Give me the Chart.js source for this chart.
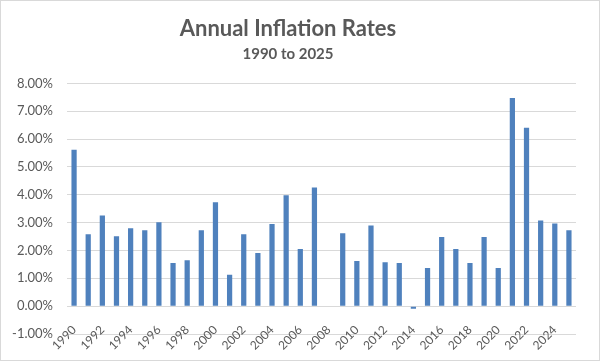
<!DOCTYPE html>
<html>
<head>
<meta charset="utf-8">
<script src="https://cdn.jsdelivr.net/npm/chart.js@4/dist/chart.umd.min.js"></script>
<style>
  html, body { margin: 0; padding: 0; background: #fff; }
  #wrap { width: 600px; height: 361px; }
</style>
</head>
<body>
<div id="wrap"><canvas id="chart" width="600" height="361"></canvas></div>
<script>
  // Dados
  const years = [
    '1990', '1991', '1992', '1993', '1994', '1995', '1996', '1997', '1998', '1999',
    '2000', '2001', '2002', '2003', '2004', '2005', '2006', '2007', '2008', '2009',
    '2010', '2011', '2012', '2013', '2014', '2015', '2016', '2017', '2018', '2019',
    '2020', '2021', '2022', '2023', '2024', '2025'
  ];
  const inflationRates = [
    5.62, 2.58, 3.26, 2.51, 2.80, 2.73, 3.01, 1.55, 1.65, 2.73,
    3.73, 1.13, 2.58, 1.91, 2.95, 3.98, 2.05, 4.26, 0, 2.62,
    1.62, 2.90, 1.58, 1.55, -0.09, 1.37, 2.48, 2.05, 1.55, 2.48,
    1.37, 7.48, 6.41, 3.08, 2.97, 2.73
  ];
  const yTicks = [-1, 0, 1, 2, 3, 4, 5, 6, 7, 8];

  const textColor = '#595959';
  const gridColor = '#d9d9d9';
  const fontFamily = 'Lato, "Open Sans", sans-serif';

  // Fundo branco e borda cinza ao redor do gráfico
  const framePlugin = {
    id: 'frame',
    beforeDraw(chart) {
      const ctx = chart.ctx;
      ctx.save();
      ctx.fillStyle = '#ffffff';
      ctx.fillRect(0, 0, chart.width, chart.height);
      ctx.restore();
    },
    afterDraw(chart) {
      const ctx = chart.ctx;
      ctx.save();
      ctx.strokeStyle = gridColor;
      ctx.lineWidth = 1;
      ctx.strokeRect(0.5, 0.5, chart.width - 1, chart.height - 1);
      ctx.restore();
    }
  };

  const ctx = document.getElementById('chart').getContext('2d');
  new Chart(ctx, {
    type: 'bar',
    data: {
      labels: years,
      datasets: [{
        label: 'Inflation',
        data: inflationRates,
        backgroundColor: '#4f81bd',
        borderWidth: 0,
        barPercentage: 0.37,
        categoryPercentage: 1
      }]
    },
    options: {
      responsive: false,
      animation: false,
      layout: { padding: { left: 0, right: 24, top: 0, bottom: 27 } },
      plugins: {
        legend: { display: false },
        tooltip: { enabled: false },
        title: {
          display: true,
          text: 'Annual Inflation Rates',
          color: textColor,
          font: { family: fontFamily, size: 22, weight: 'bold' },
          padding: { top: 16, bottom: 3 }
        },
        subtitle: {
          display: true,
          text: '1990 to 2025',
          color: textColor,
          font: { family: fontFamily, size: 15, weight: 'bold' },
          padding: { top: 0, bottom: 20 }
        }
      },
      scales: {
        x: {
          // eixo posicionado dentro da área para os rótulos ficarem como no original
          position: { y: -0.6 },
          grid: { display: false, drawTicks: false },
          border: { display: false },
          ticks: {
            autoSkip: false,
            maxRotation: 45,
            minRotation: 45,
            padding: 0,
            color: textColor,
            font: { family: fontFamily, size: 12 },
            callback(value, index) {
              return index % 2 === 0 ? years[index] : '';
            }
          }
        },
        y: {
          min: -1,
          max: 8,
          afterBuildTicks(scale) {
            scale.ticks = yTicks.map(v => ({ value: v }));
          },
          afterFit(scale) { scale.width = 67; },
          grid: { color: gridColor, lineWidth: 1, drawTicks: false },
          border: { display: false },
          ticks: {
            padding: 14,
            color: textColor,
            font: { family: fontFamily, size: 13 },
            callback(value) { return value.toFixed(2) + '%'; }
          }
        }
      }
    },
    plugins: [framePlugin]
  });
</script>
</body>
</html>
